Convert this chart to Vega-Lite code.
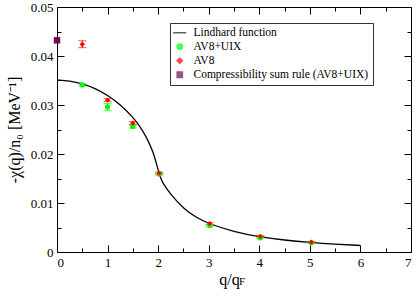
{
  "$schema": "https://vega.github.io/schema/vega-lite/v6.json",
  "width": 354,
  "height": 245,
  "autosize": {"type": "none"},
  "padding": {"left": 57, "top": 7, "right": 4, "bottom": 37},
  "background": "white",
  "config": {
    "view": {"stroke": null},
    "font": "Liberation Serif",
    "axis": {
      "domainColor": "black",
      "domainWidth": 1,
      "tickColor": "black",
      "tickWidth": 1,
      "grid": false,
      "labelFont": "Liberation Serif",
      "labelFontSize": 13,
      "labelColor": "black",
      "titleFont": "Liberation Serif",
      "titleFontSize": 16,
      "titleFontWeight": "normal",
      "titleColor": "black"
    },
    "legend": {"labelFont": "Liberation Serif"},
    "text": {"font": "Liberation Serif"}
  },
  "datasets": {
    "lind": [
      {"q": 0, "chi": 0.0351},
      {"q": 0.25, "chi": 0.03492},
      {"q": 0.5, "chi": 0.03436},
      {"q": 0.75, "chi": 0.03341},
      {"q": 1, "chi": 0.03201},
      {"q": 1.25, "chi": 0.0301},
      {"q": 1.5, "chi": 0.02751},
      {"q": 1.625, "chi": 0.02588},
      {"q": 1.75, "chi": 0.0238},
      {"q": 1.875, "chi": 0.0211},
      {"q": 1.95, "chi": 0.0187},
      {"q": 2.0, "chi": 0.0167},
      {"q": 2.05, "chi": 0.0151},
      {"q": 2.1, "chi": 0.0139},
      {"q": 2.25, "chi": 0.0117},
      {"q": 2.5, "chi": 0.00887},
      {"q": 2.75, "chi": 0.00706},
      {"q": 3, "chi": 0.00578},
      {"q": 3.5, "chi": 0.00411},
      {"q": 4, "chi": 0.00309},
      {"q": 4.5, "chi": 0.00241},
      {"q": 5, "chi": 0.00194},
      {"q": 5.5, "chi": 0.00159},
      {"q": 6, "chi": 0.00133}
    ],
    "pts": [
      {"series": "AV8+UIX", "q": 0.5, "chi": 0.0341, "err": 0.0002},
      {"series": "AV8+UIX", "q": 1.0, "chi": 0.0296, "err": 0.0007},
      {"series": "AV8+UIX", "q": 1.5, "chi": 0.0256, "err": 0.0003},
      {"series": "AV8+UIX", "q": 2.02, "chi": 0.0159, "err": 0.0002},
      {"series": "AV8+UIX", "q": 3.02, "chi": 0.0054, "err": 0.0002},
      {"series": "AV8+UIX", "q": 4.02, "chi": 0.0029, "err": 0.0001},
      {"series": "AV8+UIX", "q": 5.03, "chi": 0.0019, "err": 0.0001},
      {"series": "AV8", "q": 0.5, "chi": 0.0424, "err": 0.0007},
      {"series": "AV8", "q": 1.0, "chi": 0.031, "err": 0.0003},
      {"series": "AV8", "q": 1.5, "chi": 0.0263, "err": 0.0003},
      {"series": "AV8", "q": 2.02, "chi": 0.0161, "err": 0.0002},
      {"series": "AV8", "q": 3.02, "chi": 0.0058, "err": 0.0002},
      {"series": "AV8", "q": 4.02, "chi": 0.0032, "err": 0.0001},
      {"series": "AV8", "q": 5.03, "chi": 0.002, "err": 0.0001},
      {"series": "Compressibility sum rule (AV8+UIX)", "q": 0, "chi": 0.0432, "err": 0}
    ]
  },
  "layer": [
    {
      "data": {"name": "lind"},
      "mark": {"type": "line", "interpolate": "basis", "strokeWidth": 1.3},
      "encoding": {
        "x": {
          "field": "q", "type": "quantitative",
          "scale": {"domain": [0, 7], "nice": false},
          "axis": {
            "orient": "bottom",
            "values": [0, 0.5, 1, 1.5, 2, 2.5, 3, 3.5, 4, 4.5, 5, 5.5, 6, 6.5, 7],
            "labelExpr": "datum.value % 1 == 0 ? format(datum.value, 'd') : ''",
            "tickSize": {"condition": {"test": "datum.value % 1 == 0", "value": -7}, "value": -4},
            "labelPadding": 11,
            "title": "q/q",
            "titlePadding": 2,
            "titleX": 172
          }
        },
        "y": {
          "field": "chi", "type": "quantitative",
          "scale": {"domain": [0, 0.05], "nice": false},
          "axis": {
            "orient": "left",
            "values": [0, 0.005, 0.01, 0.015, 0.02, 0.025, 0.03, 0.035, 0.04, 0.045, 0.05],
            "labelExpr": "round(datum.value * 1000) % 10 == 0 ? (datum.value == 0 ? '0' : format(datum.value, '.2f')) : ''",
            "tickSize": {"condition": {"test": "round(datum.value * 1000) % 10 == 0", "value": -7}, "value": -4},
            "labelPadding": 11,
            "title": "-χ(q)/n₀ [MeV⁻¹]",
            "titlePadding": 8
          }
        },
        "color": {
          "datum": "Lindhard function",
          "type": "nominal",
          "scale": {
            "domain": ["Lindhard function", "AV8+UIX", "AV8", "Compressibility sum rule (AV8+UIX)"],
            "range": ["black", "#00ff00", "#ff0000", "#6e1050"]
          }
        }
      }
    },
    {
      "data": {"name": "pts"},
      "transform": [{"filter": "datum.err > 0"}],
      "mark": {"type": "errorbar", "ticks": {"size": 8}, "thickness": 1},
      "encoding": {
        "x": {"field": "q", "type": "quantitative", "axis": null},
        "y": {"field": "chi", "type": "quantitative", "axis": null},
        "yError": {"field": "err"},
        "color": {"field": "series", "type": "nominal"}
      }
    },
    {
      "data": {"name": "pts"},
      "mark": {"type": "point", "filled": true, "opacity": 1},
      "encoding": {
        "x": {"field": "q", "type": "quantitative", "axis": null},
        "y": {"field": "chi", "type": "quantitative", "axis": null},
        "color": {
          "field": "series", "type": "nominal",
          "legend": {
            "orient": "none",
            "legendX": 113,
            "legendY": 16,
            "title": null,
            "strokeColor": "#333333",
            "fillColor": "white",
            "padding": 4,
            "rowPadding": 1,
            "labelFontSize": 11.5,
            "labelColor": "black",
            "labelOffset": 8,
            "labelLimit": 300,
            "symbolSize": 30,
            "symbolStrokeWidth": 1.3
          }
        },
        "shape": {
          "field": "series", "type": "nominal",
          "scale": {
            "domain": ["Lindhard function", "AV8+UIX", "AV8", "Compressibility sum rule (AV8+UIX)"],
            "range": ["M-2.4,0H2.4", "circle", "diamond", "square"]
          },
          "legend": {
            "orient": "none",
            "legendX": 113,
            "legendY": 16,
            "title": null
          }
        },
        "size": {
          "condition": {"test": "datum.series == 'Compressibility sum rule (AV8+UIX)'", "value": 42},
          "value": 28
        }
      }
    },
    {
      "data": {"name": "lind"},
      "mark": {"type": "point", "opacity": 0},
      "encoding": {
        "x": {
          "field": "q", "type": "quantitative",
          "axis": {
            "orient": "top",
            "values": [0, 0.5, 1, 1.5, 2, 2.5, 3, 3.5, 4, 4.5, 5, 5.5, 6, 6.5, 7],
            "labels": false,
            "tickSize": {"condition": {"test": "datum.value % 1 == 0", "value": -7}, "value": -4},
            "title": null
          }
        },
        "y": {
          "field": "chi", "type": "quantitative",
          "axis": {
            "orient": "right",
            "values": [0, 0.005, 0.01, 0.015, 0.02, 0.025, 0.03, 0.035, 0.04, 0.045, 0.05],
            "labels": false,
            "tickSize": {"condition": {"test": "round(datum.value * 1000) % 10 == 0", "value": -7}, "value": -4},
            "title": null
          }
        }
      }
    },
    {
      "data": {"values": [{}]},
      "mark": {"type": "text", "fontSize": 11, "align": "left", "baseline": "middle"},
      "encoding": {
        "x": {"datum": 3.6, "type": "quantitative", "axis": null},
        "y": {"datum": -0.0062, "type": "quantitative", "axis": null},
        "text": {"value": "F"}
      }
    }
  ],
  "resolve": {"axis": {"x": "independent", "y": "independent"}}
}
